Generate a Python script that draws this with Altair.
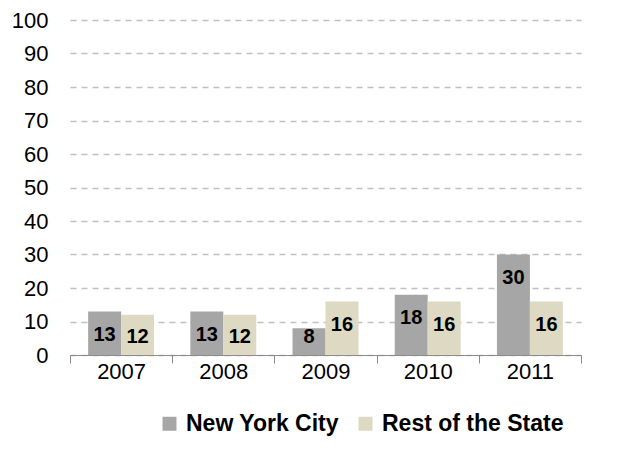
import altair as alt
import pandas as pd

years = ["2007", "2008", "2009", "2010", "2011"]
nyc = [13, 13, 8, 18, 30]
rest = [12, 12, 16, 16, 16]
series = ["New York City", "Rest of the State"]
colors = ["#a6a6a6", "#ddd9c3"]

rows = []
for i, y in enumerate(years):
    rows.append({"year": y, "series": series[0], "value": nyc[i]})
    rows.append({"year": y, "series": series[1], "value": rest[i]})
df = pd.DataFrame(rows)

font = "Liberation Sans"

x = alt.X("year:N", title=None, sort=years,
          scale=alt.Scale(paddingInner=0, paddingOuter=0),
          axis=alt.Axis(labelAngle=0, tickBand="extent", domainColor="#8c8c8c",
                        tickColor="#8c8c8c", tickSize=8, labelFontSize=22,
                        labelColor="black", labelFont=font, labelPadding=-2,
                        grid=False))
xo = alt.XOffset("series:N", sort=series,
                 scale=alt.Scale(paddingInner=0, paddingOuter=0.55))

yaxis = alt.Axis(values=list(range(0, 101, 10)), domain=False, ticks=False,
                 gridDash=[6, 5], gridColor="#c0c0c0", gridWidth=1.3,
                 labelFontSize=22, labelColor="black", labelFont=font,
                 labelPadding=22, labelOverlap=False)
yscale = alt.Scale(domain=[0, 100], nice=False)

base = alt.Chart(df)

bars = base.mark_bar().encode(
    x=x, xOffset=xo,
    y=alt.Y("value:Q", title=None, scale=yscale, axis=yaxis),
    color=alt.Color("series:N", sort=series, title=None,
                    scale=alt.Scale(domain=series, range=colors),
                    legend=alt.Legend(orient="none", direction="horizontal",
                                      legendX=88, legendY=392,
                                      symbolType="square", symbolSize=196,
                                      symbolStrokeWidth=0, symbolOpacity=1,
                                      labelFontSize=23, labelFontWeight="bold",
                                      labelFont=font, labelColor="black",
                                      labelLimit=400,
                                      columnPadding=15, labelOffset=5)),
)

labels = base.transform_calculate(
    ly="max(datum.value - 7, 5.5)"
).mark_text(fontSize=20, fontWeight="bold", font=font, color="black",
            baseline="middle").encode(
    x=x, xOffset=xo,
    y=alt.Y("ly:Q", title=None, scale=yscale, axis=yaxis),
    text="value:Q",
)

chart = alt.layer(bars, labels).properties(
    width=511, height=335,
    autosize=alt.AutoSizeParams(type="none"),
    padding={"left": 62, "top": 12, "right": 45, "bottom": 101},
).configure_view(stroke=None)

chart.save("out.html", embed_options={"renderer": "svg", "actions": False})
